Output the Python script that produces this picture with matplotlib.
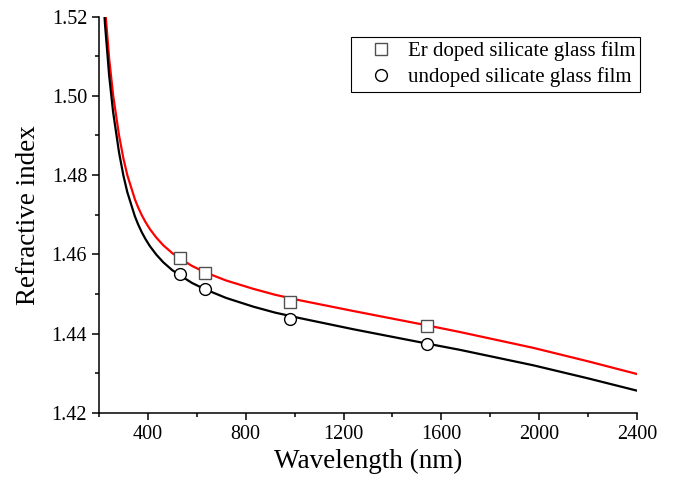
import numpy as np
import matplotlib.pyplot as plt
from matplotlib.ticker import MultipleLocator

# measured points (nm, refractive index)
wl_meas = [532, 633, 980, 1540]
n_er = [1.4591, 1.4554, 1.4480, 1.4420]
n_undoped = [1.4550, 1.4512, 1.4436, 1.4375]

# fitted dispersion curves
wl_fit = [215, 225, 242, 258, 282, 300, 316, 347, 360, 375, 390, 408, 435, 463,
          500, 532, 580, 633, 720, 831, 920, 1022, 1240, 1540, 1676, 1976,
          2200, 2400]
n_fit_er = [1.5317, 1.5222, 1.5093, 1.5002, 1.4901, 1.4842, 1.4800, 1.4739,
            1.4719, 1.4699, 1.4682, 1.4664, 1.4642, 1.4623, 1.4603, 1.4589,
            1.4571, 1.4555, 1.4534, 1.4513, 1.4498, 1.4484, 1.4457, 1.4421,
            1.4404, 1.4364, 1.4330, 1.4298]
n_fit_un = [1.5274, 1.5179, 1.5050, 1.4959, 1.4858, 1.4799, 1.4757, 1.4696,
            1.4676, 1.4656, 1.4639, 1.4621, 1.4599, 1.4580, 1.4560, 1.4547,
            1.4528, 1.4512, 1.4490, 1.4468, 1.4453, 1.4439, 1.4411, 1.4375,
            1.4359, 1.4320, 1.4287, 1.4256]

plt.rcParams['font.family'] = ['Liberation Serif', 'DejaVu Serif']

fig = plt.figure(figsize=(6.73, 4.88), dpi=100)
ax = fig.add_axes([0.147, 0.154, 0.7995, 0.812])

ax.plot(wl_fit, n_fit_er, color='red', lw=1.6, zorder=2)
ax.plot(wl_fit, n_fit_un, color='black', lw=1.6, zorder=2)
ax.plot(wl_meas, n_er, ls='none', marker='s', ms=8, mfc='white', mec='#505050',
        mew=1.0, label='Er doped silicate glass film', zorder=3)
ax.plot(wl_meas, n_undoped, ls='none', marker='o', ms=8.5, mfc='white', mec='black',
        mew=1.0, label='undoped silicate glass film', zorder=3)

ax.set_xlim(200, 2400)
ax.set_ylim(1.42, 1.52)
ax.xaxis.set_minor_locator(MultipleLocator(200))
ax.yaxis.set_major_locator(MultipleLocator(0.02))
ax.yaxis.set_minor_locator(MultipleLocator(0.01))
ax.set_xticks([400, 800, 1200, 1600, 2000, 2400])
ax.yaxis.set_major_formatter(plt.FormatStrFormatter('%.2f'))

for s in ['top', 'right']:
    ax.spines[s].set_visible(False)
for s in ['left', 'bottom']:
    ax.spines[s].set_linewidth(1.1)
ax.tick_params(which='major', direction='out', length=5, width=1.1, labelsize=14.5)
ax.tick_params(which='minor', direction='out', length=3, width=1.1)

ax.set_xlabel('Wavelength (nm)', fontsize=19.5, labelpad=4)
ax.set_ylabel('Refractive index', fontsize=19.5, labelpad=8)

leg = ax.legend(loc='upper right', bbox_to_anchor=(1.0056, 0.948), fontsize=15,
                frameon=True, fancybox=False, edgecolor='black', framealpha=1,
                borderpad=0.2, handletextpad=0.08, handlelength=2.45,
                labelspacing=0.3, borderaxespad=0)
leg.get_frame().set_linewidth(0.8)

fig.savefig('out.png', dpi=100)
